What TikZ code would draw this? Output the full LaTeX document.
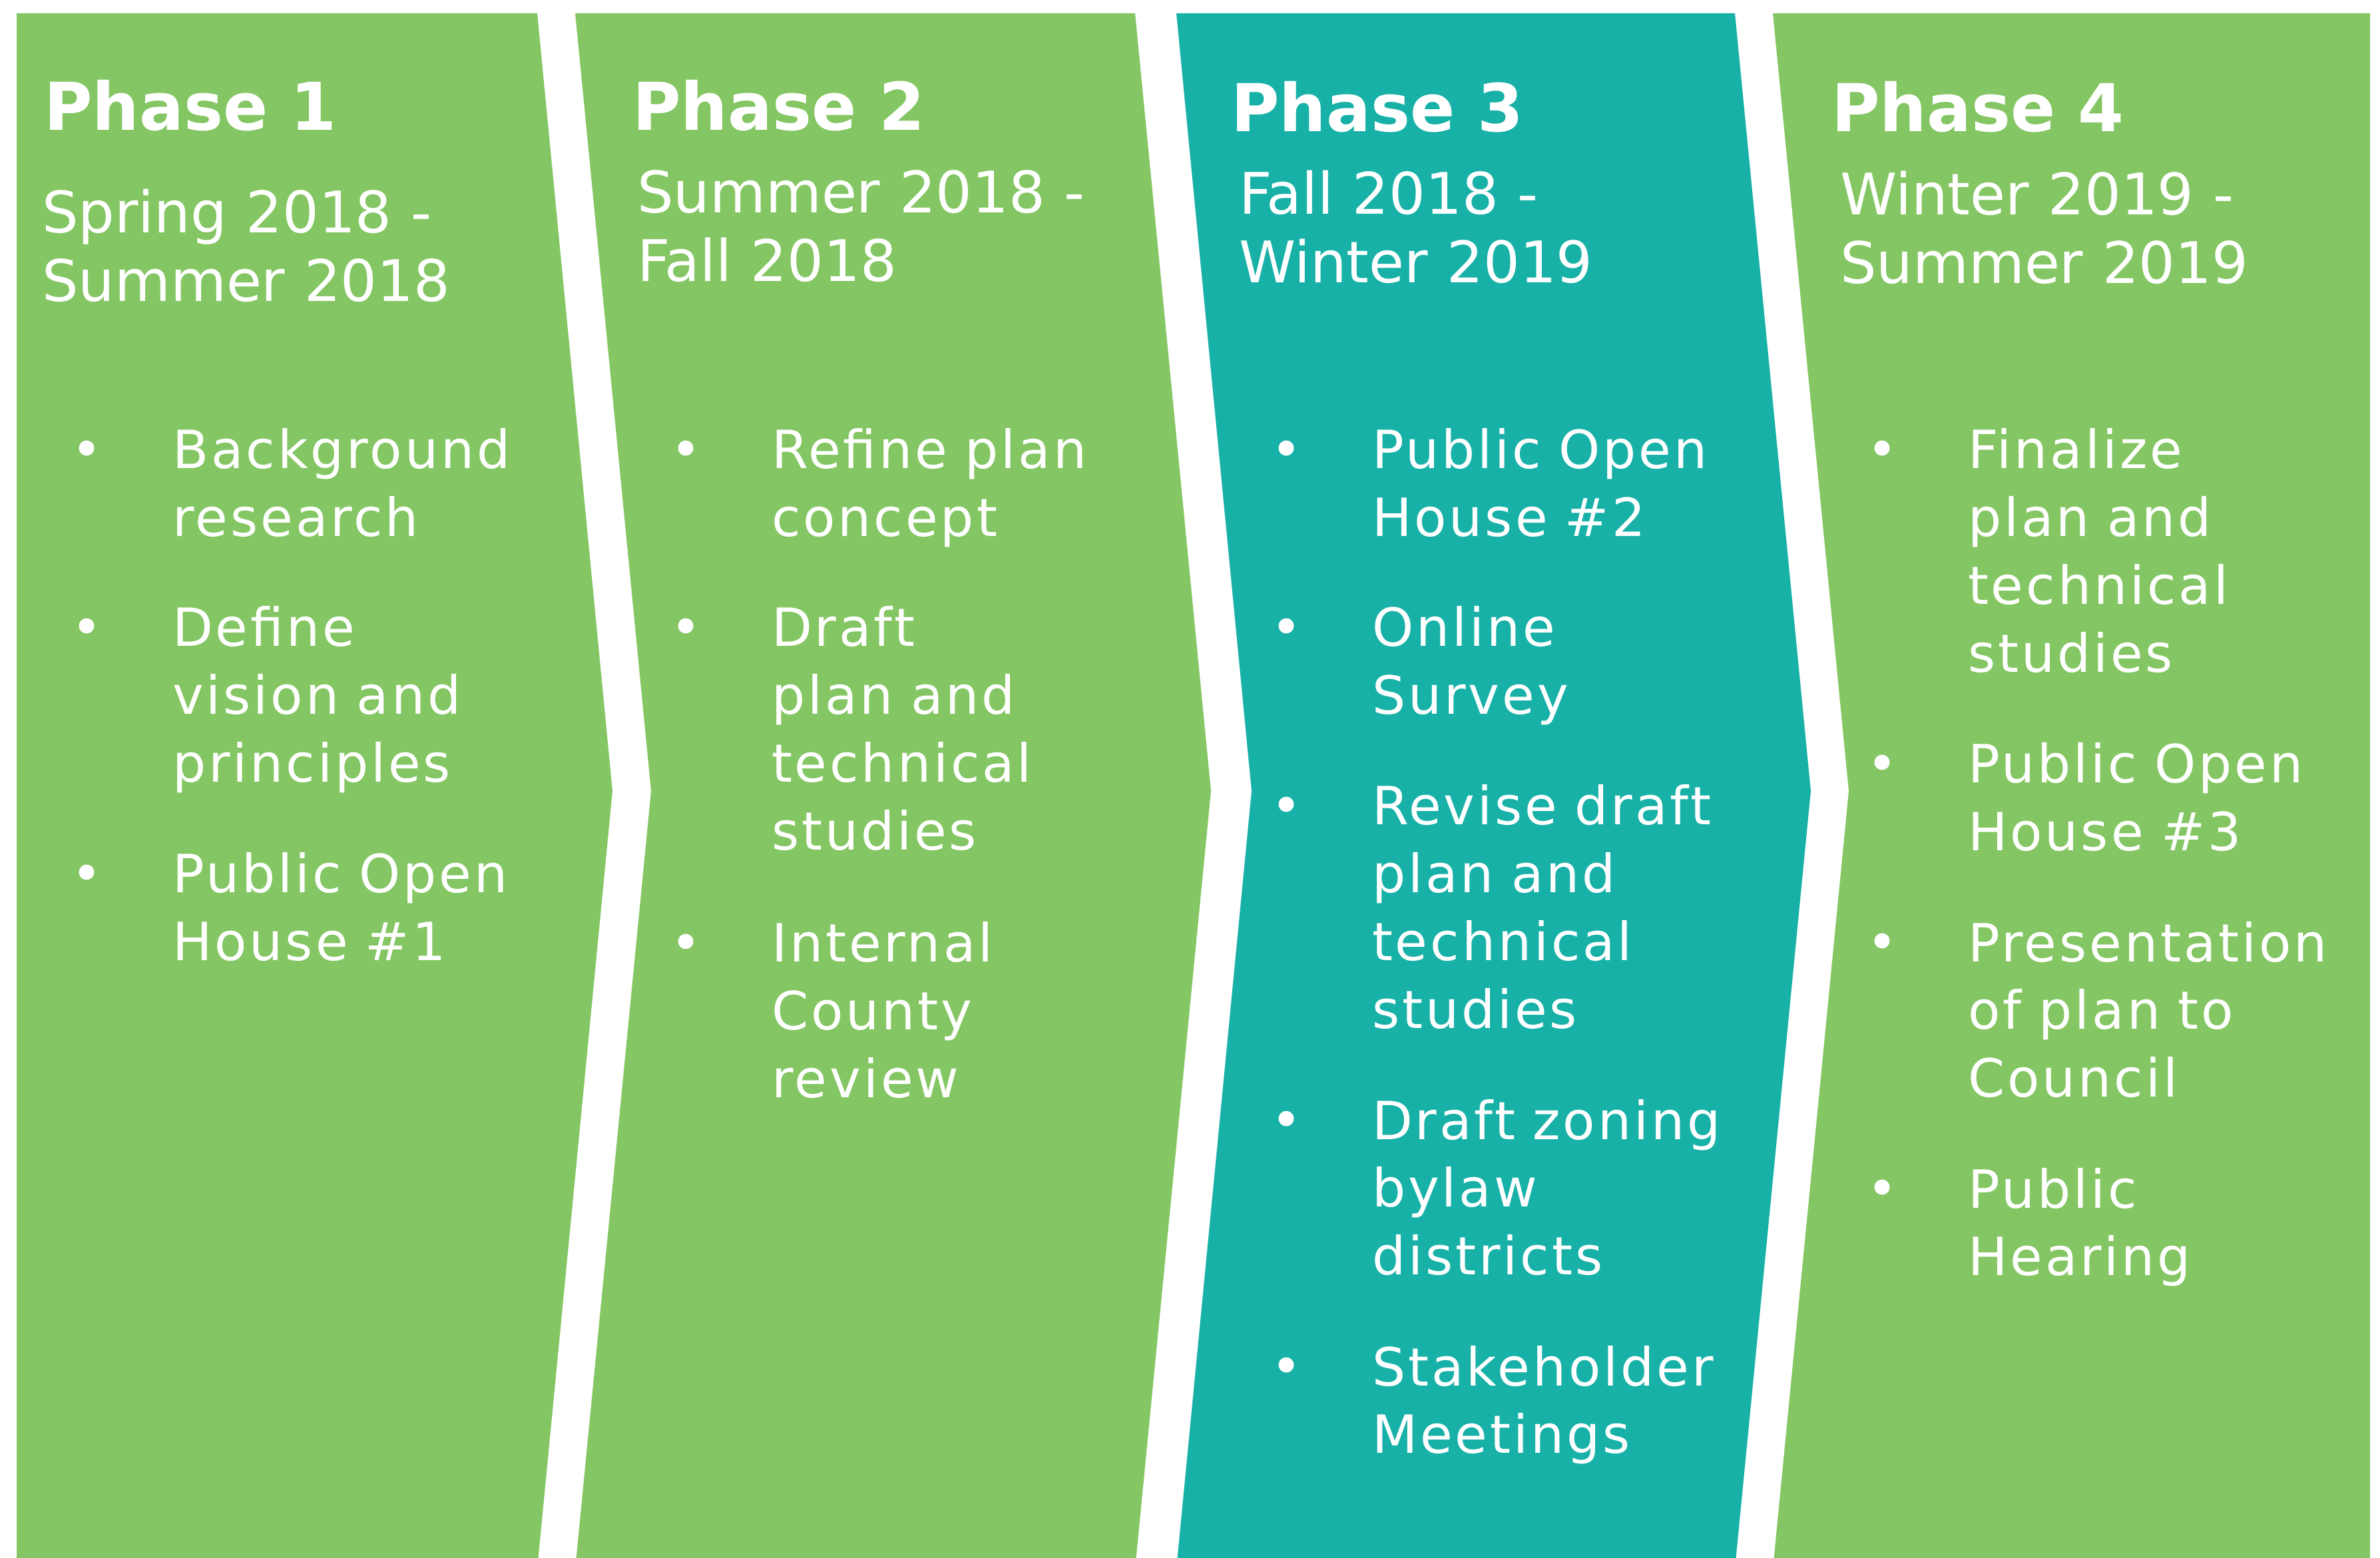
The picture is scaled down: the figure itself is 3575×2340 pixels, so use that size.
\documentclass[tikz,border=0pt]{standalone}
\usepackage{fontspec}
\setmainfont{DejaVu Sans}
\newfontfamily\itemfont[LetterSpace=5]{DejaVu Sans}
\usetikzlibrary{calc}
\definecolor{PhaseGreen}{HTML}{84C663}
\definecolor{PhaseTeal}{HTML}{18B1A8}

% one bullet point: name, x, baseline y, text
\newcommand\phaseitem[4]{%
  \node[item] (#1) at (#2,#3) {#4};
  \node[dot] (#1dot) at ($(#1.base west)+(-129,-31)$) {};}

\begin{document}
\begin{tikzpicture}[x=0.1mm,y=-0.1mm,
  every node/.style={text=white,inner sep=0pt,outer sep=0pt},
  title/.style={anchor=base west,font=\fontsize{28.2}{34}\selectfont\bfseries},
  dates/.style={anchor=base west,text width=9cm,align=left,font=\fontsize{24.5}{29.3}\selectfont},
  item/.style={anchor=base west,text width=9cm,align=left,font=\itemfont\fontsize{22.5}{29}\selectfont},
  dot/.style={circle,fill=white,minimum size=2.3mm}]
\useasboundingbox (0,0) rectangle (3575,2340);
\clip (0,0) rectangle (3575,2340);
% the four chevrons
\fill[PhaseGreen] (25,20) -- (807,20) -- (920,1188) -- (807,2356) -- (25,2356) -- cycle;
\fill[PhaseGreen] (864,20) -- (1705,20) -- (1819,1188) -- (1705,2356) -- (864,2356) -- (978,1188) -- cycle;
\fill[PhaseTeal] (1767,20) -- (2606,20) -- (2720,1188) -- (2606,2356) -- (1767,2356) -- (1880,1188) -- cycle;
\fill[PhaseGreen] (2663,20) -- (3560,20) -- (3560,2356) -- (2663,2356) -- (2777,1188) -- cycle;

% phase 1
\node[title] (t1) at (66,196) {Phase 1};
\node[dates] (d1) at (63,350) {Spring 2018 -\\Summer 2018};
\phaseitem{p1a}{259}{704}{Background\\research}
\phaseitem{p1b}{259}{971}{Define\\vision and\\principles}
\phaseitem{p1c}{259}{1341}{Public Open\\House \#1}

% phase 2
\node[title] (t2) at (950,196) {Phase 2};
\node[dates] (d2) at (957,320) {Summer 2018 -\\Fall 2018};
\phaseitem{p2a}{1159}{704}{Refine plan\\concept}
\phaseitem{p2b}{1159}{971}{Draft\\plan and\\technical\\studies}
\phaseitem{p2c}{1159}{1445}{Internal\\County\\review}

% phase 3
\node[title] (t3) at (1849,198) {Phase 3};
\node[dates] (d3) at (1861,322) {Fall 2018 -\\Winter 2019};
\phaseitem{p3a}{2061}{704}{Public Open\\House \#2}
\phaseitem{p3b}{2061}{971}{Online\\Survey}
\phaseitem{p3c}{2061}{1239}{Revise draft\\plan and\\technical\\studies}
\phaseitem{p3d}{2061}{1711}{Draft zoning\\bylaw\\districts}
\phaseitem{p3e}{2061}{2081}{Stakeholder\\Meetings}

% phase 4
\node[title] (t4) at (2751,198) {Phase 4};
\node[dates] (d4) at (2764,323) {Winter 2019 -\\Summer 2019};
\phaseitem{p4a}{2956}{704}{Finalize\\plan and\\technical\\studies}
\phaseitem{p4b}{2956}{1176}{Public Open\\House \#3}
\phaseitem{p4c}{2956}{1444}{Presentation\\of plan to\\Council}
\phaseitem{p4d}{2956}{1814}{Public\\Hearing}
\end{tikzpicture}
\end{document}
